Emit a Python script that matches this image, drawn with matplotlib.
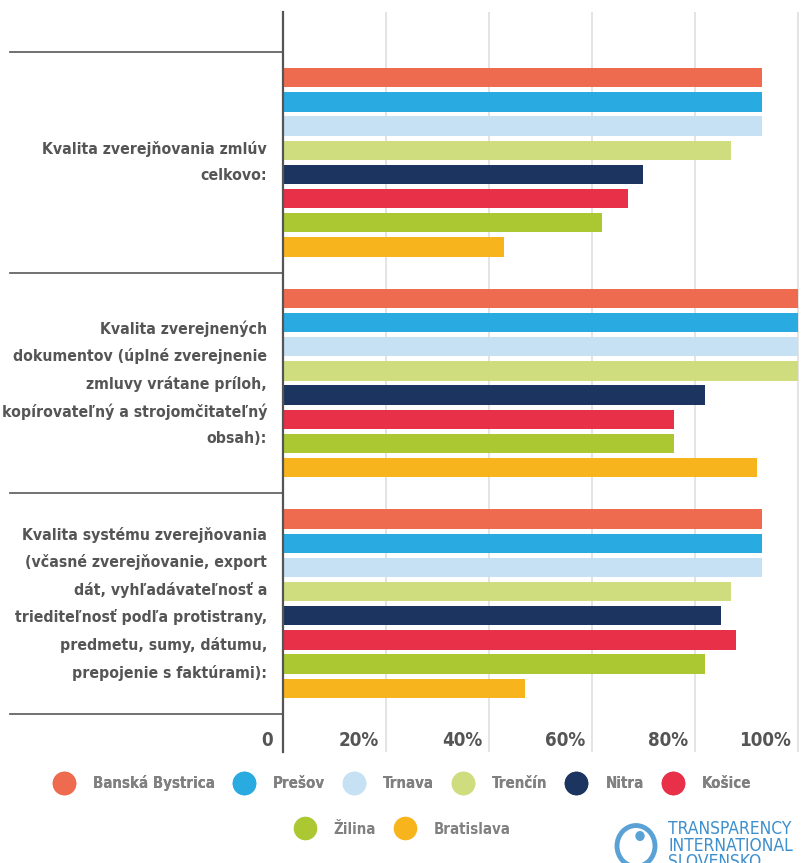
import matplotlib.pyplot as plt
from matplotlib.lines import Line2D
from matplotlib.patches import Circle
from matplotlib.transforms import blended_transform_factory

categories = [
    "Kvalita zverejňovania zmlúv\ncelkovo:",
    "Kvalita zverejnených\ndokumentov (úplné zverejnenie\nzmluvy vrátane príloh,\n"
    "kopírovateľný a strojomčitateľný\nobsah):",
    "Kvalita systému zverejňovania\n(včasné zverejňovanie, export\ndát, vyhľadávateľnosť a\n"
    "triediteľnosť podľa protistrany,\npredmetu, sumy, dátumu,\nprepojenie s faktúrami):",
]
regions = ["Banská Bystrica", "Prešov", "Trnava", "Trenčín", "Nitra", "Košice", "Žilina", "Bratislava"]
colors = ["#ef6b50", "#29abe2", "#c6e0f4", "#d0dd7e", "#1c3560", "#e83148", "#abc832", "#f8b41c"]

banska_bystrica = [93, 100, 93]
presov = [93, 100, 93]
trnava = [93, 100, 93]
trencin = [87, 100, 87]
nitra = [70, 82, 85]
kosice = [67, 76, 88]
zilina = [62, 76, 82]
bratislava = [43, 92, 47]
values = [banska_bystrica, presov, trnava, trencin, nitra, kosice, zilina, bratislava]

x_ticks = [0, 20, 40, 60, 80, 100]
x_tick_labels = ["0", "20%", "40%", "60%", "80%", "100%"]

FONT = ["DejaVu Sans"]
STRETCH = "condensed"
W, H = 801, 863

fig = plt.figure(figsize=(W / 100, H / 100), dpi=100)
ax = fig.add_axes([283 / W, 1 - 752 / H, 516 / W, 740 / H])

group_px = 221
pitch = 24.2 / group_px
bar_h = 19.3 / group_px

for i, (name, col, vals) in enumerate(zip(regions, colors, values)):
    ys = [g + (i - 3.5) * pitch for g in range(len(categories))]
    ax.barh(ys, vals, height=bar_h, color=col, zorder=2)

ax.set_xlim(0, 100.2)
ax.set_ylim(2.5 + 38 / group_px, -0.5 - 40 / group_px)

for s in ["top", "right", "bottom"]:
    ax.spines[s].set_visible(False)
ax.spines["left"].set_color("#555555")
ax.spines["left"].set_linewidth(1.6)
ax.set_yticks([])
ax.set_xticks([])
for x in x_ticks[1:]:
    ax.axvline(x, color="#dcdcdc", lw=1.1, zorder=0)

# tick labels sit inside the axes, just left of each gridline
tr = blended_transform_factory(ax.transData, ax.transAxes)
for x, lab in zip(x_ticks, x_tick_labels):
    ax.annotate(lab, (x, 0.016), xycoords=tr, xytext=(-10 if x == 0 else -7, 0),
                textcoords="offset pixels", ha="right", va="center",
                fontsize=13.5, fontweight="bold", color="#555555", family=FONT,
                fontstretch=STRETCH)

# group separators and category labels on the left
sep_tr = blended_transform_factory(fig.transFigure, ax.transData)
for y in [-0.5, 0.5, 1.5, 2.5]:
    ax.plot([10 / W, 283 / W], [y, y], transform=sep_tr, color="#666666",
            lw=1.3, clip_on=False)
for g, cat in enumerate(categories):
    ax.text(267 / W, g, cat, transform=sep_tr, ha="right", va="center",
            multialignment="right", fontsize=11.3, fontweight="bold",
            color="#555555", linespacing=1.89, family=FONT, fontstretch=STRETCH)

# legend in two centred rows
handles = [Line2D([], [], ls="", marker="o", markersize=16, color=c) for c in colors]
leg_kw = dict(frameon=False, handlelength=1, handletextpad=1.43, columnspacing=1.43,
              prop={"family": FONT, "size": 10.8, "weight": "bold", "stretch": STRETCH},
              labelcolor="#808080", loc="center")
leg1 = fig.legend(handles[:6], regions[:6], ncol=6, bbox_to_anchor=(404 / W, 1 - 783 / H), **leg_kw)
fig.add_artist(leg1)
fig.legend(handles[6:], regions[6:], ncol=2, bbox_to_anchor=(404 / W, 1 - 829 / H), **leg_kw)

# logo
logo_blue = "#3d8fcd"
fig.add_artist(Circle((636 / W, 1 - 846 / H), 19 / W, transform=fig.transFigure,
                      fill=False, ec="#5aa2d6", lw=3.5))
fig.add_artist(Circle((640 / W, 1 - 836 / H), 4 / W, transform=fig.transFigure,
                      color="#5aa2d6"))
fig.text(668 / W, 1 - 820 / H, "TRANSPARENCY\nINTERNATIONAL\nSLOVENSKO", ha="left", va="top",
         fontsize=12.5, color=logo_blue, linespacing=0.9, family=FONT, fontstretch=STRETCH)

fig.savefig("out.png", dpi=100)
